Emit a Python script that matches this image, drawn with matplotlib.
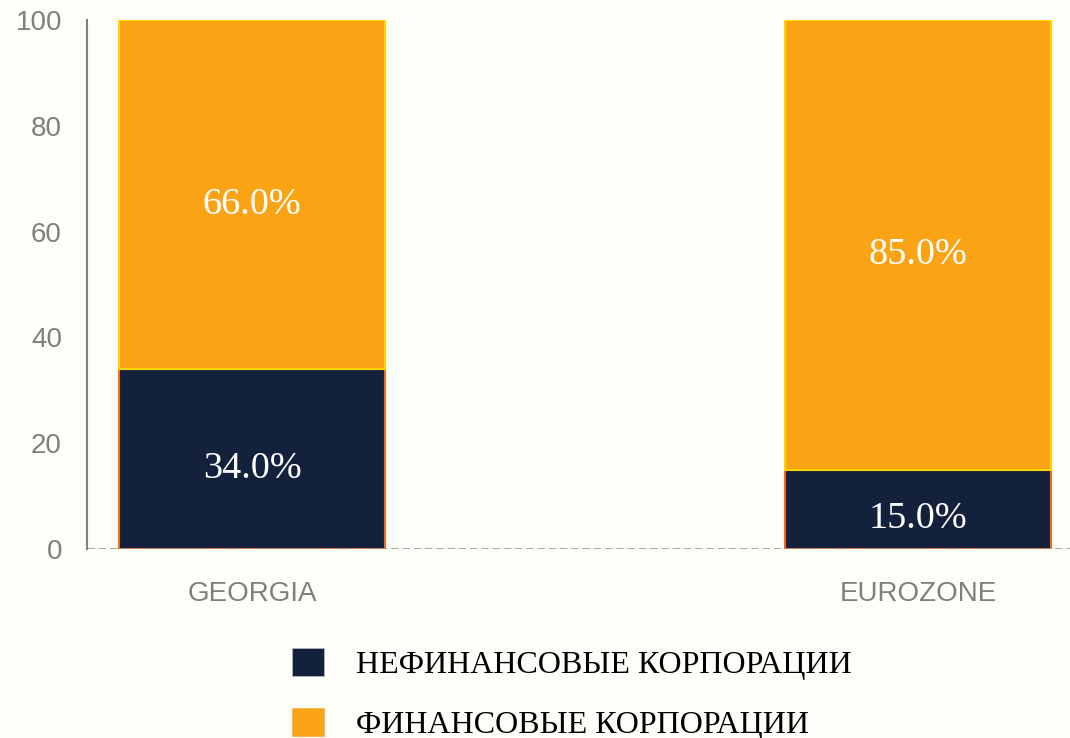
import matplotlib.pyplot as plt
from matplotlib.patches import Patch

categories = ["GEORGIA", "EUROZONE"]
nonfin = [34.0, 15.0]
fin = [66.0, 85.0]
series_names = ["НЕФИНАНСОВЫЕ КОРПОРАЦИИ", "ФИНАНСОВЫЕ КОРПОРАЦИИ"]

navy = "#14213d"
orange = "#faa314"
bg = "#fefef9"

W, H = 1070, 738
fig = plt.figure(figsize=(W / 100, H / 100), dpi=100, facecolor=bg)
ax = fig.add_axes([87 / W, 1 - 549 / H, (1070 - 87) / W, (549 - 20) / H])
ax.set_facecolor(bg)

x = list(range(len(categories)))
ax.bar(x, nonfin, width=0.4, color=navy, edgecolor="#f26a1b", linewidth=1.5, zorder=2)
ax.bar(x, fin, width=0.4, bottom=nonfin, color=orange, edgecolor="#ffd400", linewidth=1.5, zorder=2)

lbl = dict(ha="center", va="center", color="white", fontsize=27.5,
           family="Liberation Serif", textcoords="offset points", xytext=(0, -7), zorder=3)
for i in x:
    ax.annotate(f"{nonfin[i]:.1f}%", (i, nonfin[i] / 2), **lbl)
    ax.annotate(f"{fin[i]:.1f}%", (i, nonfin[i] + fin[i] / 2), **lbl)

ax.set_xlim(-0.248, 1.228)
ax.set_ylim(0, 100)
ax.set_yticks([0, 20, 40, 60, 80, 100])
ax.tick_params(axis="y", length=0, pad=18, labelsize=20, labelcolor="#7f7f7f")
ax.set_xticks(x)
ax.set_xticklabels(categories)
ax.tick_params(axis="x", length=0, pad=23, labelsize=20, labelcolor="#7f7f7f")
for t in ax.get_xticklabels() + ax.get_yticklabels():
    t.set_family("Liberation Sans")
for s in ["top", "right", "bottom"]:
    ax.spines[s].set_visible(False)
ax.spines["left"].set_color("#808080")
ax.spines["left"].set_linewidth(1.5)
ax.axhline(0, color="#8c8c8c", linestyle=(0, (3, 1.5)), linewidth=1.8, zorder=4)

handles = [Patch(facecolor=navy, edgecolor="#bbbbbb", linewidth=0.5),
           Patch(facecolor=orange, edgecolor="#f5b040", linewidth=0.5)]
fig.legend(handles, series_names, loc="upper left", bbox_to_anchor=(263 / W, 1 - 619 / H),
           frameon=False, prop={"family": "Liberation Serif", "size": 23},
           handlelength=1.0, handleheight=1.0, handletextpad=1.0, labelspacing=0.87)

fig.savefig("out.png", dpi=100, facecolor=bg)
